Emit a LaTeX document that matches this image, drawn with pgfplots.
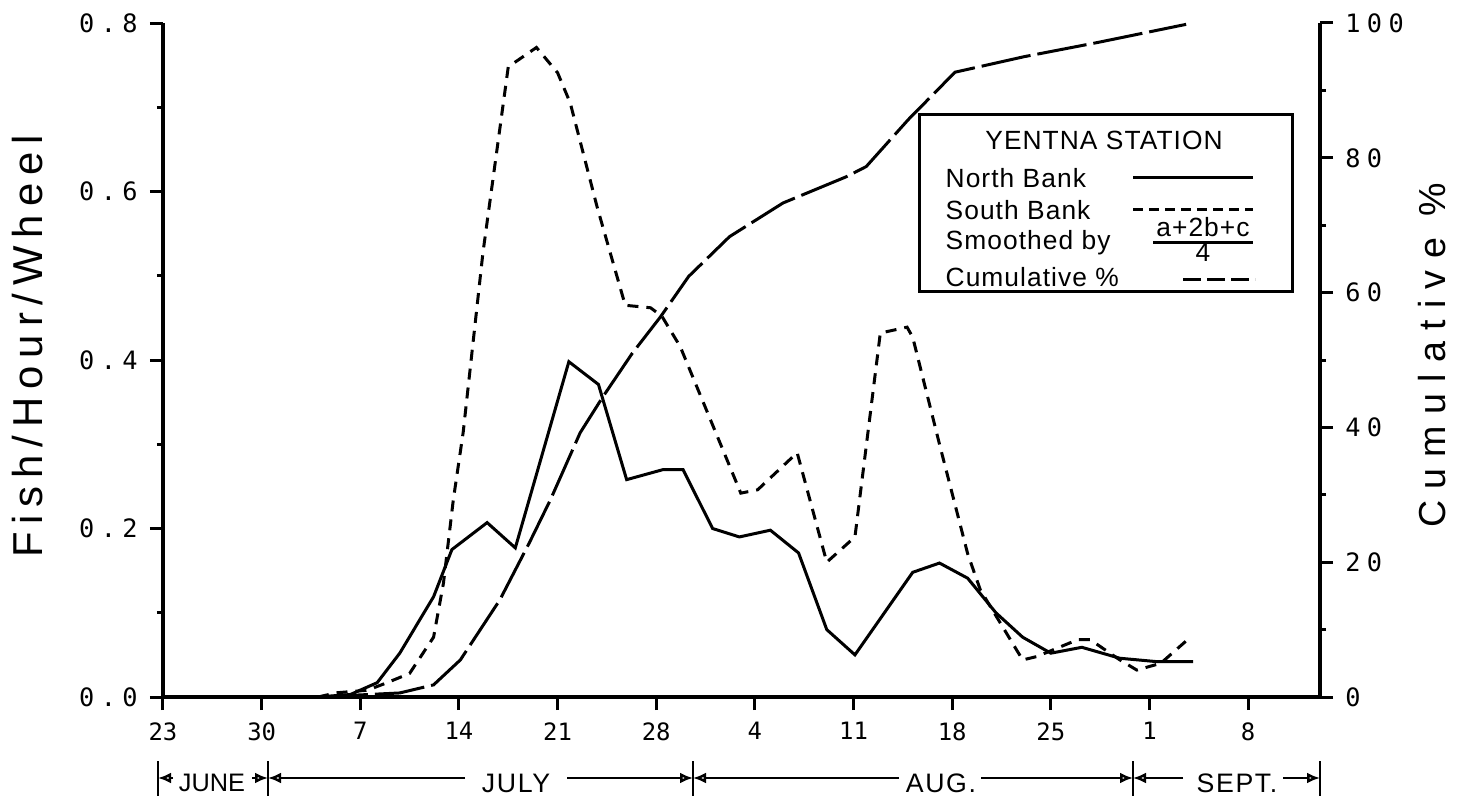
\documentclass[border=0pt]{standalone}
\usepackage{fontspec}
\setmainfont{Liberation Sans}
\usepackage{pgfplots}
\usepackage{pgfplotstable}
\pgfplotsset{compat=1.18}
\usetikzlibrary{arrows.meta}
\newfontfamily\tickfont[LetterSpace=25]{DejaVu Sans Mono}
\newfontfamily\xtickfont{DejaVu Sans Mono}
\newfontfamily\ylabfont[LetterSpace=19]{Liberation Sans}
\newfontfamily\rlabfont[LetterSpace=30]{Liberation Sans}
\newfontfamily\legfont[LetterSpace=4]{Liberation Sans}
\newfontfamily\monfont[LetterSpace=6]{Liberation Sans}
\newfontfamily\junefont{Liberation Sans}

% day 0 = 23 June
\pgfplotstableread{
day val
11 0
13.3 0.003
15.2 0.017
16.8 0.052
19.2 0.119
20.5 0.175
23.0 0.207
25.0 0.177
28.8 0.398
30.9 0.371
32.9 0.258
35.5 0.270
36.9 0.270
39.0 0.200
40.9 0.190
43.1 0.198
45.1 0.171
47.1 0.080
49.1 0.050
53.2 0.148
55.1 0.159
57.1 0.141
59.1 0.100
61.0 0.071
63.0 0.052
65.2 0.059
67.9 0.046
70.5 0.042
73.1 0.042
}\northtbl

\pgfplotstableread{
day val
11 0
12.3 0.005
14.5 0.008
15.9 0.017
17.5 0.028
19.2 0.071
19.9 0.135
20.6 0.234
21.3 0.314
22.7 0.527
24.5 0.748
26.5 0.771
28.0 0.741
28.9 0.705
30.8 0.582
32.8 0.465
34.6 0.462
35.4 0.452
36.7 0.416
41.0 0.242
42.2 0.246
45.0 0.290
47.1 0.160
49.1 0.190
50.9 0.432
52.8 0.439
53.2 0.427
55.1 0.300
57.1 0.170
58.0 0.127
61.0 0.044
62.0 0.048
64.9 0.068
65.8 0.068
67.9 0.044
69.1 0.032
70.8 0.040
72.7 0.068
}\southtbl

\pgfplotstableread{
day pct
11 0
16.8 0.6
19.2 1.8
21.1 5.5
23.9 14.4
26.0 22.9
27.5 29.3
29.6 39.2
31.2 44.5
33.3 51.0
35.3 56.4
37.3 62.4
40.2 68.3
44.0 73.3
48.5 77.2
49.9 78.7
52.9 85.7
56.2 92.7
61.1 95.0
66.3 97.1
72.6 99.8
}\cumtbl

\begin{document}
\begin{tikzpicture}
\pgfplotsset{
  common/.style={
    at={(0,0)}, anchor=south west,
    width=115.7mm, height=67.4mm, scale only axis,
    xmin=0, xmax=82.1,
    axis line style={line width=0.35mm, -},
    tick align=outside,
    major tick length=1.3mm, minor tick length=0.6mm,
    every tick/.style={black, line width=0.3mm},
    clip=false,
  }
}
\begin{axis}[
  common,
  ymin=0, ymax=0.8,
  axis x line*=bottom, axis y line*=left,
  xtick={0,7,14,21,28,35,42,49,56,63,70,77},
  xticklabels={23,30,7,14,21,28,4,11,18,25,1,8},
  ytick={0,0.2,0.4,0.6,0.8},
  yticklabels={0.0,0.2,0.4,0.6,0.8},
  minor ytick={0.1,0.3,0.5,0.7},
  x tick label style={font=\xtickfont\fontsize{6.8}{8}\selectfont},
  y tick label style={font=\tickfont\fontsize{7.2}{8}\selectfont},
  ylabel={Fish/Hour/Wheel},
  every axis y label/.style={at={(axis description cs:-0.117,0.52)}, rotate=90, anchor=center,
    font=\ylabfont\fontsize{11.9}{14}\selectfont},
]
\addplot[black, line width=0.3mm] table[x=day,y=val] {\northtbl};
\addplot[black, line width=0.3mm, dash pattern=on 1.1mm off 0.8mm] table[x=day,y=val] {\southtbl};
\end{axis}
\begin{axis}[
  common,
  ymin=0, ymax=100,
  axis x line=none, axis y line*=right,
  ytick={0,20,40,60,80,100},
  yticklabels={0,20,40,60,80,100},
  minor ytick={10,30,50,70,90},
  y tick label style={font=\tickfont\fontsize{7.2}{8}\selectfont},
  ylabel={Cumulative \%},
  every axis y label/.style={at={(axis description cs:1.097,0.507)}, rotate=90, anchor=center,
    font=\rlabfont\fontsize{10.7}{13}\selectfont},
]
\addplot[black, line width=0.3mm, dash pattern=on 5mm off 0.7mm] table[x=day,y=pct] {\cumtbl};
\end{axis}

% legend box
\draw[line width=0.3mm] (75.6mm,40.5mm) rectangle (112.9mm,58.2mm);
\begin{scope}[every node/.style={inner sep=0pt, font=\legfont\fontsize{7.5}{9}\selectfont}]
\node[anchor=base] at (94.1mm,54.7mm) {YENTNA STATION};
\node[anchor=base west] at (78.2mm,50.9mm) {North Bank};
\node[anchor=base west] at (78.2mm,47.7mm) {South Bank};
\node[anchor=base west] at (78.2mm,44.7mm) {Smoothed by};
\node[anchor=base west] at (78.2mm,41.0mm) {Cumulative \%};
\node[anchor=base] at (104.0mm,46.0mm) {a+2b+c};
\node[anchor=base] at (104.0mm,43.5mm) {4};
\end{scope}
\draw[line width=0.3mm] (97mm,51.9mm) -- (109mm,51.9mm);
\draw[line width=0.3mm, dash pattern=on 1mm off 0.6mm] (97mm,48.7mm) -- (109mm,48.7mm);
\draw[line width=0.3mm] (99mm,45.4mm) -- (109mm,45.4mm);
\draw[line width=0.3mm, dash pattern=on 1.8mm off 0.6mm] (102mm,41.7mm) -- (109.2mm,41.7mm);

% month row
\begin{scope}[line width=0.25mm, every node/.style={inner sep=0pt, font=\monfont\fontsize{7.6}{9}\selectfont}]
\foreach \b in {-0.5,10.5,53.0,97.0,115.7} {\draw (\b mm,-6.4mm) -- (\b mm,-9.9mm);}
\node[font=\junefont\fontsize{7.2}{9}\selectfont] at (4.9mm,-8.6mm) {JUNE};
\node at (35.3mm,-8.6mm) {JULY};
\node at (77.8mm,-8.6mm) {AUG.};
\node at (107.4mm,-8.6mm) {SEPT.};
\tikzset{arr/.style={-{Latex[open,length=1.3mm,width=1.1mm]}}}
\draw[arr] (1.0mm,-8.1mm) -- (-0.5mm,-8.1mm);
\draw[arr] (8.9mm,-8.1mm) -- (10.5mm,-8.1mm);
\draw[arr] (30.2mm,-8.1mm) -- (10.5mm,-8.1mm);
\draw[arr] (40.4mm,-8.1mm) -- (53.0mm,-8.1mm);
\draw[arr] (73.6mm,-8.1mm) -- (53.0mm,-8.1mm);
\draw[arr] (81.8mm,-8.1mm) -- (97.0mm,-8.1mm);
\draw[arr] (102.0mm,-8.1mm) -- (97.0mm,-8.1mm);
\draw[arr] (112.0mm,-8.1mm) -- (115.7mm,-8.1mm);
\end{scope}

\pgfresetboundingbox
\path (-16.3mm,-10.8mm) rectangle (130.3mm,69.7mm);
\end{tikzpicture}
\end{document}
